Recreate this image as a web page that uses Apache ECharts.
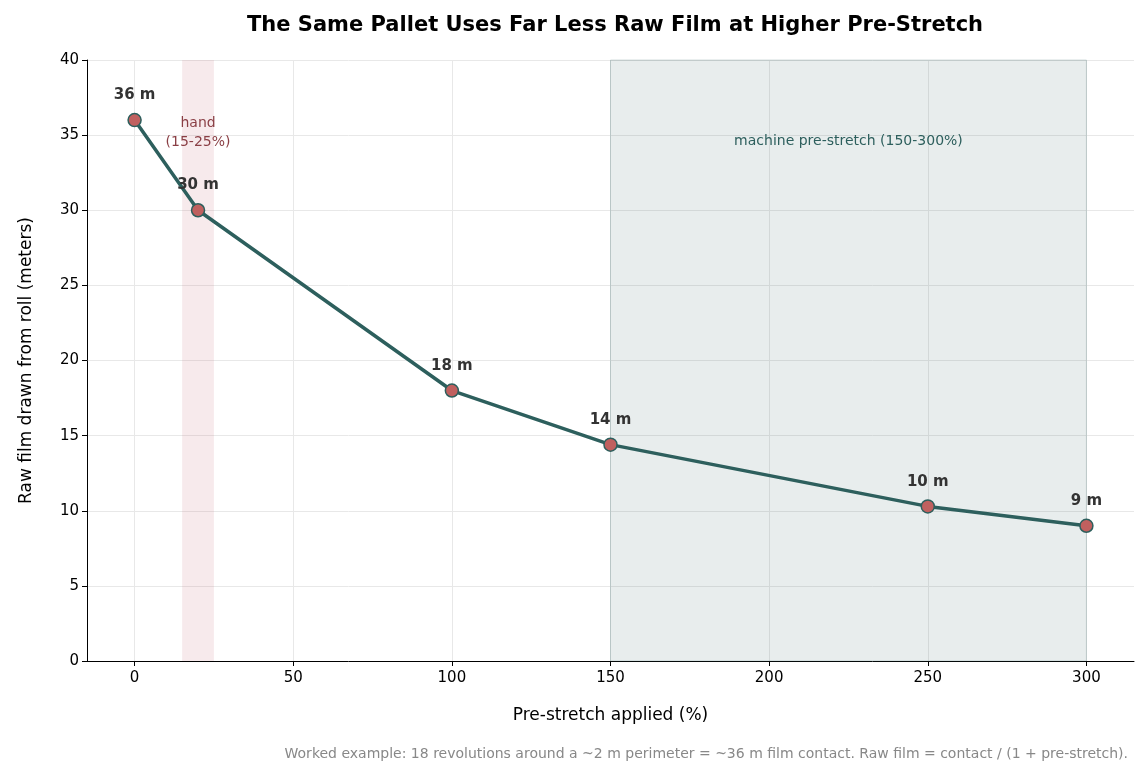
<!DOCTYPE html>
<html>
<head>
<meta charset="utf-8">
<script src="https://cdn.jsdelivr.net/npm/echarts@6/dist/echarts.min.js"></script>
<style>html,body{margin:0;padding:0;background:#fff}#chart{width:1148px;height:781px}</style>
</head>
<body>
<div id="chart"></div>
<script>
// pre-stretch (%) vs raw film (m)
var preStretch = [0, 20, 100, 150, 250, 300];
var rawFilm = [36, 30, 18, 14.4, 10.29, 9];
var pointLabels = ['36 m', '30 m', '18 m', '14 m', '10 m', '9 m'];
var xTicks = [0, 50, 100, 150, 200, 250, 300];
var handZone = [15, 25];
var machineZone = [150, 300];

var chart = echarts.init(document.getElementById('chart'));
var font = 'DejaVu Sans';

var points = preStretch.map(function (x, i) { return [x, rawFilm[i]]; });

chart.setOption({
	animation: false,
	textStyle: { fontFamily: font },
	title: {
		text: 'The Same Pallet Uses Far Less Raw Film at Higher Pre-Stretch',
		left: 610, top: 10, textAlign: 'center',
		textStyle: { fontSize: 21, fontWeight: 'bold', color: '#000', fontFamily: font }
	},
	grid: { left: 87, right: 14, top: 60, bottom: 120 },
	xAxis: {
		type: 'value', min: -15, max: 315,
		name: 'Pre-stretch applied (%)', nameLocation: 'middle', nameGap: 46,
		nameTextStyle: { fontSize: 17, color: '#000', fontFamily: font },
		axisLine: { onZero: false, lineStyle: { color: '#000' } },
		axisTick: { show: true, length: 5, lineStyle: { color: '#000' }, customValues: xTicks },
		axisLabel: { fontSize: 15, color: '#000', margin: 10, customValues: xTicks },
		splitLine: { show: false }
	},
	yAxis: {
		type: 'value', min: 0, max: 40, interval: 5,
		name: 'Raw film drawn from roll (meters)', nameLocation: 'middle', nameGap: 52,
		nameTextStyle: { fontSize: 17, color: '#000', fontFamily: font },
		axisLine: { show: true, onZero: false, lineStyle: { color: '#000' } },
		axisTick: { show: true, length: 5, lineStyle: { color: '#000' } },
		axisLabel: { fontSize: 15, color: '#000' },
		splitLine: { lineStyle: { color: '#e8e8e8' } }
	},
	graphic: [{
		type: 'text', right: 20, top: 747,
		style: {
			text: 'Worked example: 18 revolutions around a ~2 m perimeter = ~36 m film contact. Raw film = contact / (1 + pre-stretch).',
			fill: '#888', fontSize: 14, fontFamily: font
		}
	}],
	series: [{
		type: 'line',
		data: points,
		z: 5,
		lineStyle: { color: '#2d5f5d', width: 3.5 },
		symbol: 'circle', symbolSize: 13,
		itemStyle: { color: '#c0605f', borderColor: '#2d5f5d', borderWidth: 1.5 },
		label: {
			show: true, position: 'top', distance: 10,
			fontSize: 15, fontWeight: 'bold', color: '#333',
			formatter: function (p) { return pointLabels[p.dataIndex]; }
		},
		markLine: {
			silent: true, symbol: 'none', label: { show: false }, z: 1,
			lineStyle: { color: '#e8e8e8', type: 'solid', width: 1 },
			data: xTicks.map(function (v) { return { xAxis: v }; })
		},
		markArea: {
			silent: true, z: 2,
			data: [
				[{ xAxis: handZone[0], itemStyle: { color: 'rgba(192,96,110,0.13)' },
					label: { show: true, position: 'insideTop', distance: 54, formatter: 'hand\n(15-25%)', color: '#8a3f45', fontSize: 14, lineHeight: 19 } },
				 { xAxis: handZone[1] }],
				[{ xAxis: machineZone[0], itemStyle: { color: 'rgba(45,95,93,0.11)', borderColor: 'rgba(45,95,93,0.2)', borderWidth: 1 },
					label: { show: true, position: 'insideTop', distance: 75, formatter: 'machine pre-stretch (150-300%)', color: '#2d5f5d', fontSize: 14 } },
				 { xAxis: machineZone[1] }]
			]
		}
	}]
});
</script>
</body>
</html>
